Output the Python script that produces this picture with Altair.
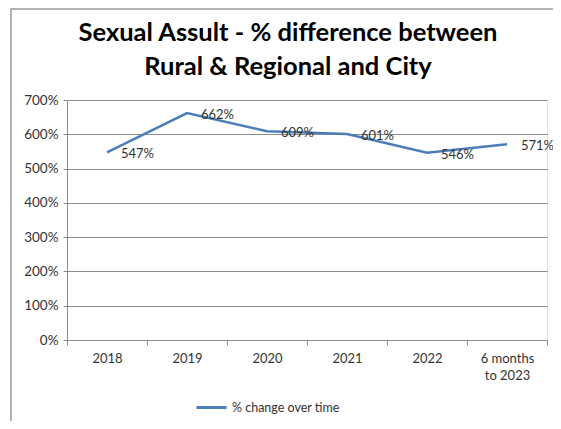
import altair as alt
import pandas as pd

categories = ["2018", "2019", "2020", "2021", "2022", "6 months to 2023"]
values = [5.47, 6.62, 6.09, 6.01, 5.46, 5.71]
series_name = "% change over time"
y_ticks = [0, 1, 2, 3, 4, 5, 6, 7]

df = pd.DataFrame({
    "period": categories,
    "value": values,
    "series": [series_name] * len(categories),
})

FONT = "Lato"
GRID = "#8c8c8c"
LINE = "#4A7EBB"

x_enc = alt.X(
    "period:N",
    sort=categories,
    title=None,
    bandPosition=0.5,
    scale=alt.Scale(type="band", paddingInner=0, paddingOuter=0),
    axis=alt.Axis(
        labelAngle=0,
        tickBand="extent",
        ticks=True,
        tickSize=5,
        tickColor=GRID,
        domainColor=GRID,
        grid=False,
        labelFont=FONT,
        labelFontSize=13,
        labelColor="#333333",
        labelPadding=7,
        labelLineHeight=17,
        labelExpr="datum.value == '6 months to 2023' ? ['6 months', 'to 2023'] : datum.value",
    ),
)
y_enc = alt.Y(
    "value:Q",
    title=None,
    scale=alt.Scale(domain=[0, 7], nice=False),
    axis=alt.Axis(
        values=y_ticks,
        format=".0%",
        grid=True,
        gridColor=GRID,
        domainColor=GRID,
        tickColor=GRID,
        tickSize=4,
        labelFont=FONT,
        labelFontSize=13.5,
        labelColor="#333333",
        labelPadding=5,
    ),
)

base = alt.Chart(df)

line = base.mark_line(strokeWidth=2.5).encode(
    x=x_enc,
    y=y_enc,
    color=alt.Color(
        "series:N",
        title=None,
        scale=alt.Scale(range=[LINE]),
        legend=alt.Legend(
            orient="none",
            legendX=128,
            legendY=291,
            symbolType="stroke",
            symbolStrokeWidth=3,
            symbolSize=900,
            labelFont=FONT,
            labelFontSize=12.5,
            labelColor="#333333",
        ),
    ),
)

labels = base.mark_text(
    align="left", baseline="middle", dx=14, dy=2, fontSize=13, font=FONT, color="#333333"
).encode(
    x=x_enc,
    y=y_enc,
    text=alt.Text("value:Q", format=".0%"),
)

frame = alt.Chart(pd.DataFrame({"f": [0]})).mark_rect(
    fillOpacity=0, stroke="#999999", strokeWidth=1.5
).encode(
    x=alt.value(-56), x2=alt.value(560), y=alt.value(-91), y2=alt.value(400)
)

chart = alt.layer(frame, line, labels).properties(
    width=480,
    height=240,
    autosize=alt.AutoSizeParams(type="none"),
    padding={"left": 59, "top": 92, "right": 6, "bottom": 81},
    title=alt.Title(
        ["Sexual Assult - % difference between", "Rural & Regional and City"],
        font=FONT,
        fontSize=25.5,
        fontWeight="bold",
        color="#000000",
        lineHeight=34,
        anchor="middle",
        dx=-19,
        dy=4,
        offset=-68.5,
    ),
).configure_view(stroke=None).configure(background="white")

chart.save("out.html", embed_options={"renderer": "svg", "actions": False})
